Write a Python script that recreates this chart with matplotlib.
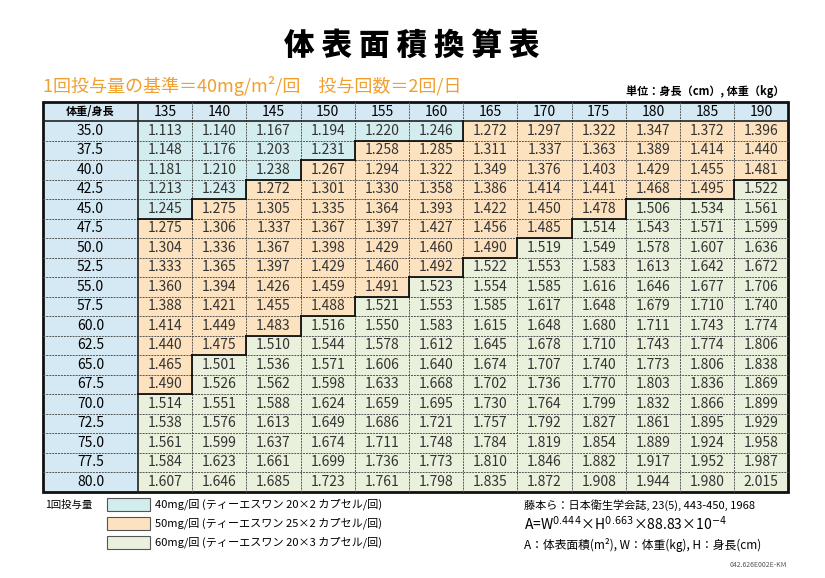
import matplotlib
matplotlib.use("Agg")
import matplotlib.pyplot as plt
from matplotlib.patches import Rectangle

plt.rcParams["font.family"] = "Noto Sans CJK JP"

heights = [135, 140, 145, 150, 155, 160, 165, 170, 175, 180, 185, 190]
weights = ["35.0", "37.5", "40.0", "42.5", "45.0", "47.5", "50.0", "52.5", "55.0", "57.5",
           "60.0", "62.5", "65.0", "67.5", "70.0", "72.5", "75.0", "77.5", "80.0"]
bsa = [
    [1.113, 1.140, 1.167, 1.194, 1.220, 1.246, 1.272, 1.297, 1.322, 1.347, 1.372, 1.396],
    [1.148, 1.176, 1.203, 1.231, 1.258, 1.285, 1.311, 1.337, 1.363, 1.389, 1.414, 1.440],
    [1.181, 1.210, 1.238, 1.267, 1.294, 1.322, 1.349, 1.376, 1.403, 1.429, 1.455, 1.481],
    [1.213, 1.243, 1.272, 1.301, 1.330, 1.358, 1.386, 1.414, 1.441, 1.468, 1.495, 1.522],
    [1.245, 1.275, 1.305, 1.335, 1.364, 1.393, 1.422, 1.450, 1.478, 1.506, 1.534, 1.561],
    [1.275, 1.306, 1.337, 1.367, 1.397, 1.427, 1.456, 1.485, 1.514, 1.543, 1.571, 1.599],
    [1.304, 1.336, 1.367, 1.398, 1.429, 1.460, 1.490, 1.519, 1.549, 1.578, 1.607, 1.636],
    [1.333, 1.365, 1.397, 1.429, 1.460, 1.492, 1.522, 1.553, 1.583, 1.613, 1.642, 1.672],
    [1.360, 1.394, 1.426, 1.459, 1.491, 1.523, 1.554, 1.585, 1.616, 1.646, 1.677, 1.706],
    [1.388, 1.421, 1.455, 1.488, 1.521, 1.553, 1.585, 1.617, 1.648, 1.679, 1.710, 1.740],
    [1.414, 1.449, 1.483, 1.516, 1.550, 1.583, 1.615, 1.648, 1.680, 1.711, 1.743, 1.774],
    [1.440, 1.475, 1.510, 1.544, 1.578, 1.612, 1.645, 1.678, 1.710, 1.743, 1.774, 1.806],
    [1.465, 1.501, 1.536, 1.571, 1.606, 1.640, 1.674, 1.707, 1.740, 1.773, 1.806, 1.838],
    [1.490, 1.526, 1.562, 1.598, 1.633, 1.668, 1.702, 1.736, 1.770, 1.803, 1.836, 1.869],
    [1.514, 1.551, 1.588, 1.624, 1.659, 1.695, 1.730, 1.764, 1.799, 1.832, 1.866, 1.899],
    [1.538, 1.576, 1.613, 1.649, 1.686, 1.721, 1.757, 1.792, 1.827, 1.861, 1.895, 1.929],
    [1.561, 1.599, 1.637, 1.674, 1.711, 1.748, 1.784, 1.819, 1.854, 1.889, 1.924, 1.958],
    [1.584, 1.623, 1.661, 1.699, 1.736, 1.773, 1.810, 1.846, 1.882, 1.917, 1.952, 1.987],
    [1.607, 1.646, 1.685, 1.723, 1.761, 1.798, 1.835, 1.872, 1.908, 1.944, 1.980, 2.015],
]
dose_limits = [1.25, 1.50]
dose_labels = ["40mg/回 (ティーエスワン 20×2 カプセル/回)",
               "50mg/回 (ティーエスワン 25×2 カプセル/回)",
               "60mg/回 (ティーエスワン 20×3 カプセル/回)"]

colors = ["#d3ecee", "#fde2bf", "#e9f1dc"]
head_col = "#d5e9f4"

def cat(v):
    return 0 if v < dose_limits[0] else (1 if v < dose_limits[1] else 2)

fig = plt.figure(figsize=(8.25, 5.78), dpi=100)
ax = fig.add_axes([0, 0, 1, 1])
ax.set_xlim(0, 825)
ax.set_ylim(578, 0)
ax.axis("off")

X0, LW, CW = 43, 95, 54.2
Y0, HH, RH = 102, 19, 19.5
nr, nc = len(weights), len(heights)
XR = X0 + LW + nc * CW
YB = Y0 + HH + nr * RH

ax.add_patch(Rectangle((X0, Y0), XR - X0, HH, fc=head_col, ec="none"))
ax.add_patch(Rectangle((X0, Y0), LW, HH + nr * RH, fc=head_col, ec="none"))
ax.text(X0 + LW / 2, Y0 + HH / 2, "体重/身長", ha="center", va="center", fontsize=8, fontweight="bold")
for j, h in enumerate(heights):
    ax.text(X0 + LW + (j + 0.5) * CW, Y0 + HH / 2, str(h), ha="center", va="center", fontsize=10)
for i, w in enumerate(weights):
    ax.text(X0 + LW / 2, Y0 + HH + (i + 0.5) * RH, w, ha="center", va="center", fontsize=10)

cats = [[cat(v) for v in row] for row in bsa]
for i, row in enumerate(bsa):
    for j, v in enumerate(row):
        x = X0 + LW + j * CW
        y = Y0 + HH + i * RH
        ax.add_patch(Rectangle((x, y), CW, RH, fc=colors[cats[i][j]], ec="none"))
        ax.text(x + CW / 2, y + RH / 2, f"{v:.3f}", ha="center", va="center", fontsize=10, color="#333333")

for i in range(1, nr):
    ax.plot([X0, XR], [Y0 + HH + i * RH] * 2, ls=(0, (2, 1)), lw=0.7, color="#555555")
for j in range(1, nc):
    x = X0 + LW + j * CW
    ax.plot([x, x], [Y0, YB], ls=(0, (2, 1)), lw=0.7, color="#555555")
ax.plot([X0, XR], [Y0 + HH] * 2, color="#222222", lw=1.2)
ax.plot([X0 + LW] * 2, [Y0, YB], color="#222222", lw=1.2)

for i in range(nr):
    for j in range(nc):
        x = X0 + LW + j * CW
        y = Y0 + HH + i * RH
        if i + 1 < nr and cats[i][j] != cats[i + 1][j]:
            ax.plot([x, x + CW], [y + RH] * 2, color="#111111", lw=1.3)
        if j + 1 < nc and cats[i][j] != cats[i][j + 1]:
            ax.plot([x + CW] * 2, [y, y + RH], color="#111111", lw=1.3)
ax.add_patch(Rectangle((X0, Y0), XR - X0, YB - Y0, fc="none", ec="#111111", lw=2))

ax.text(412, 45, "体 表 面 積 換 算 表", ha="center", va="center", fontsize=22, fontweight="black")
ax.text(43, 86, "1回投与量の基準＝40mg/m²/回　投与回数＝2回/日", ha="left", va="center",
        fontsize=13, color="#f0a030")
ax.text(785, 92, "単位：身長（cm）, 体重（kg）", ha="right", va="center", fontsize=8, fontweight="bold")

ax.text(45, 505, "1回投与量", ha="left", va="center", fontsize=7.5)
for k, lab in enumerate(dose_labels):
    y = 498 + k * 19
    ax.add_patch(Rectangle((107, y), 43, 13, fc=colors[k], ec="#555555", lw=0.8))
    ax.text(155, y + 6.5, lab, ha="left", va="center", fontsize=8)

ax.text(524, 505, "藤本ら：日本衛生学会誌, 23(5), 443-450, 1968", ha="left", va="center", fontsize=8)
ax.text(524, 524, r"A=W$^{0.444}$×H$^{0.663}$×88.83×10$^{-4}$", ha="left", va="center", fontsize=10)
ax.text(524, 545, "A：体表面積(m²), W：体重(kg), H：身長(cm)", ha="left", va="center", fontsize=8.5)
ax.text(787, 565, "042.626E002E-KM", ha="right", va="center", fontsize=5, color="#555555")

fig.savefig("out.png", dpi=100, facecolor="white")
